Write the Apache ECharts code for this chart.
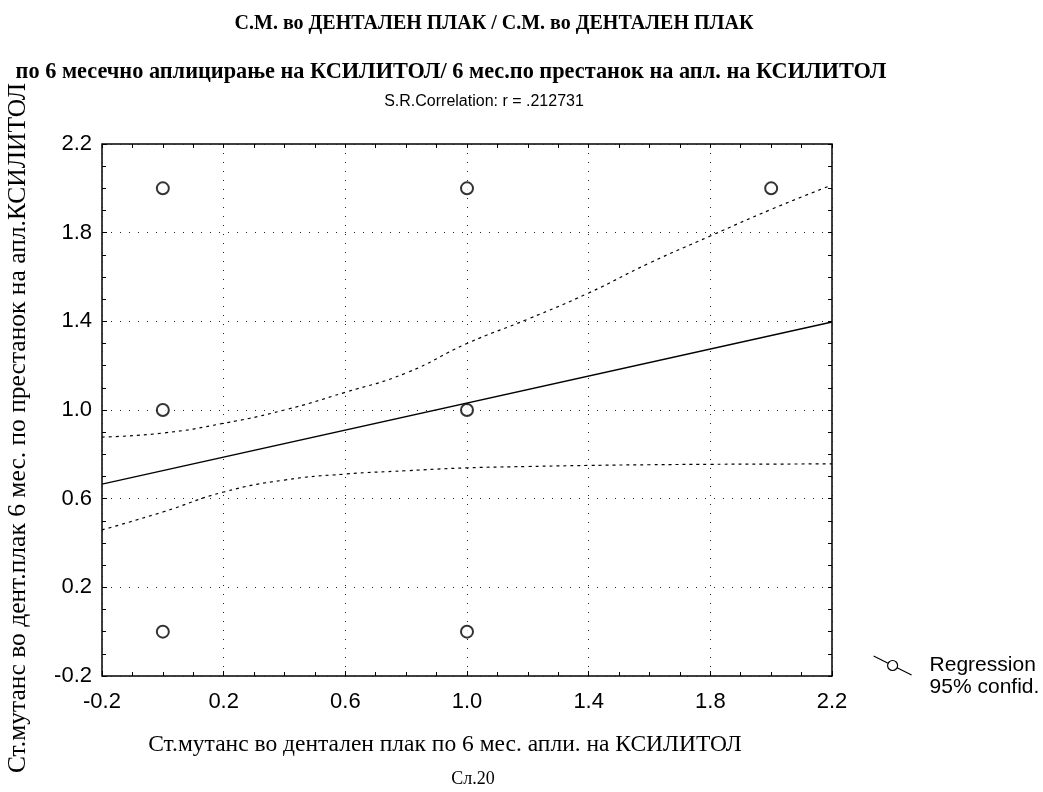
<!DOCTYPE html>
<html><head><meta charset="utf-8">
<script src="https://cdn.jsdelivr.net/npm/echarts@6/dist/echarts.min.js"></script>
<style>html,body{margin:0;padding:0;background:#fff}#c{width:1043px;height:792px}</style>
</head><body><div id="c"></div>
<script>
// ---- data ----
var pointX = [0, 1, 2, 0, 1, 0, 1];
var pointY = [2, 2, 2, 1, 1, 0, 0];
var fitX = [-0.2, 2.2];
var fitY = [0.666, 1.397];
var bandX = [-0.2, 0, 0.2, 0.4, 0.6, 0.8, 1.0, 1.2, 1.4, 1.6, 1.8, 2.0, 2.2];
var upperY = [0.878, 0.896, 0.94, 1.0, 1.08, 1.167, 1.30, 1.41, 1.528, 1.663, 1.785, 1.905, 2.015];
var lowerY = [0.459, 0.54, 0.63, 0.684, 0.711, 0.726, 0.739, 0.745, 0.750, 0.753, 0.755, 0.756, 0.757];
var majorTicks = [-0.2, 0.2, 0.6, 1.0, 1.4, 1.8, 2.2];
var tickLabels = ['-0.2', '0.2', '0.6', '1.0', '1.4', '1.8', '2.2'];

function pairs(xs, ys) { return xs.map(function (x, i) { return [x, ys[i]]; }); }

var serif = 'Liberation Serif';
var sans = 'Liberation Sans';
var legendIcon = 'path://M0,0L14.5,7.3M23.5,11.7L38,19M24,9.5A5,5,0,1,1,14,9.5A5,5,0,1,1,24,9.5Z';

function labelFmt(v) {
  for (var i = 0; i < majorTicks.length; i++) if (Math.abs(v - majorTicks[i]) < 1e-6) return tickLabels[i];
  return '';
}

function mainAxis(pos, name, nameGap, nameRotate, nameFont, namePad, labelMargin) {
  return {
    type: 'value', position: pos, min: -0.2, max: 2.2,
    name: name, nameLocation: 'middle', nameGap: nameGap, nameRotate: nameRotate,
    nameTextStyle: { fontFamily: serif, fontSize: nameFont, color: '#000', padding: namePad },
    axisLine: { show: false, onZero: false },
    axisTick: { show: true, inside: true, length: 5, customValues: majorTicks, lineStyle: { color: '#000', width: 1 } },
    axisLabel: { customValues: majorTicks, formatter: labelFmt, fontFamily: sans, fontSize: 22, color: '#000', margin: labelMargin },
    splitLine: { show: true, lineStyle: { color: '#222', width: 1, type: [1, 8] } }
  };
}
function minorAxis(pos) {
  return {
    type: 'value', position: pos, min: -0.2, max: 2.2, interval: 0.1,
    axisLine: { show: false, onZero: false },
    axisTick: { show: true, inside: true, length: 4, lineStyle: { color: '#000', width: 1 } },
    axisLabel: { show: false }, splitLine: { show: false }
  };
}

var chart = echarts.init(document.getElementById('c'), null, { renderer: 'canvas' });
chart.setOption({
  animation: false,
  backgroundColor: '#fff',
  title: [
    { text: 'С.М. во ДЕНТАЛЕН ПЛАК / С.М. во ДЕНТАЛЕН ПЛАК', left: 489, top: 9, textAlign: 'center',
      textStyle: { fontFamily: serif, fontWeight: 'bold', fontSize: 20, color: '#000' } },
    { text: 'по 6 месечно аплицирање на КСИЛИТОЛ/ 6 мес.по престанок на апл. на КСИЛИТОЛ', left: 446, top: 56, textAlign: 'center',
      textStyle: { fontFamily: serif, fontWeight: 'bold', fontSize: 22.3, color: '#000' } },
    { text: 'S.R.Correlation: r = .212731', left: 479, top: 89, textAlign: 'center',
      textStyle: { fontFamily: sans, fontWeight: 'normal', fontSize: 16, color: '#000' } },
    { text: 'Сл.20', left: 468, top: 765, textAlign: 'center',
      textStyle: { fontFamily: serif, fontWeight: 'normal', fontSize: 18, color: '#000' } }
  ],
  grid: { left: 102, right: 211, top: 144, bottom: 116, outerBoundsMode: 'none', containLabel: false,
    show: true, borderColor: '#000', borderWidth: 1.5, backgroundColor: 'transparent' },
  legend: {
    orient: 'vertical', left: 868, top: 650, itemWidth: 38, itemHeight: 19, itemGap: 1,
    textStyle: { fontFamily: sans, fontSize: 21, color: '#000', padding: [0, 0, 0, 13] },
    data: [
      { name: 'Regression', icon: legendIcon, itemStyle: { color: 'rgba(0,0,0,0)', borderColor: '#000', borderWidth: 1.2 } },
      { name: '95% confid.', icon: 'none' }
    ]
  },
  xAxis: [
    mainAxis('bottom', 'Ст.мутанс во дентален плак по 6 мес. апли. на КСИЛИТОЛ', 57, 0, 23.5, [0, 44, 0, 0], 15),
    minorAxis('bottom'), minorAxis('top')
  ],
  yAxis: [
    mainAxis('left', 'Ст.мутанс во дент.плак 6 мес. по престанок на апл.КСИЛИТОЛ', 71, 90, 25.5, [0, 36, 0, 0], 10),
    minorAxis('left'), minorAxis('right')
  ],
  series: [
    { type: 'scatter', name: 'points', xAxisIndex: 0, yAxisIndex: 0, data: pairs(pointX, pointY), symbol: 'emptyCircle', symbolSize: 12,
      itemStyle: { color: '#000', borderWidth: 1.2 }, z: 5 },
    { type: 'line', name: 'Regression', data: pairs(fitX, fitY), showSymbol: false,
      lineStyle: { color: '#000', width: 1.3 }, itemStyle: { color: '#000' } },
    { type: 'line', name: '95% confid.', data: pairs(bandX, upperY), smooth: true, showSymbol: false,
      lineStyle: { color: '#000', width: 1.2, type: [3, 4] }, itemStyle: { color: '#000' } },
    { type: 'line', name: '95% confid.', data: pairs(bandX, lowerY), smooth: true, showSymbol: false,
      lineStyle: { color: '#000', width: 1.2, type: [3, 4] }, itemStyle: { color: '#000' } }
  ]
});
</script>
</body></html>
